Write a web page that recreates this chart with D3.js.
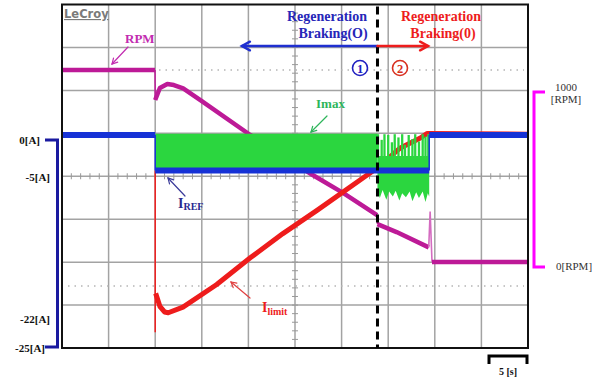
<!DOCTYPE html>
<html>
<head>
<meta charset="utf-8">
<script src="https://cdn.jsdelivr.net/npm/d3@7"></script>
<style>
  html, body { margin: 0; padding: 0; background: #fff; }
  svg { display: block; }
</style>
</head>
<body>
<div id="chart"></div>
<script>
// time axis: 5 s / div, 10 divisions
const timeTicks = d3.range(0, 51, 5);

// motor speed [RPM] vs time [s]
const rpmTrace = [[0,1103],[9.98,1103],[10.0,931],[10.5,1000],[11.3,1023],[12.0,1017],[13.0,998],[15.0,925],[20.2,730],[26.9,500],[30.15,397],[33.8,270],[33.85,218],[35.9,172],[39.35,84]];
const rpmDrop = [[39.35,84],[39.5,290],[39.7,0]];
const rpmTail = [[39.7,0],[50,0]];

// current reference I_REF [A]
const irefTrace = [[0,0],[10,0],[10,-4.4],[39.4,-4.4],[39.4,0],[50,0]];

// current limit I_limit [A]
const ilimitStep = [[10,-4.4],[10,-24.4]];
const ilimitTrace = [[10.05,-19.6],[10.5,-21.2],[11.0,-21.9],[11.4,-22.0],[12.98,-21.3],[16.6,-18.5],[20.2,-15.2],[23.7,-12.2],[27.4,-9.3],[33.05,-4.7],[33.8,-4.1],[36.3,-1.6],[38.4,-0.4],[39.2,0.2],[50,0.1]];

// I_max: dense band in zone 1, chopped burst in zone 2  [t, upper, lower]
const imaxBand = [[10,0.15,-4.4],[33.85,0.15,-4.4]];
const imaxStripes = [[33.9,0.1],[34.3,-0.6],[34.6,0.1],[35.0,0.0],[35.4,-0.9],[35.7,0.1],[36.1,-0.3],[36.5,0.1],[36.8,-1.2],[37.2,0.0],[37.6,-0.5],[37.9,0.1],[38.3,-0.8],[38.7,0.1],[39.0,-0.2],[39.3,0.1]];
const imaxBurstLow = [[33.85,-6.9],[34.1,-7.8],[34.4,-6.8],[34.8,-8.0],[35.1,-7.0],[35.5,-7.6],[35.8,-6.9],[36.2,-8.1],[36.5,-7.2],[36.9,-7.7],[37.3,-7.0],[37.6,-8.2],[38.0,-7.1],[38.3,-7.8],[38.7,-7.0],[39.0,-8.3],[39.25,-7.2],[39.4,-7.6]];

// side labels
const currentLabels = ['0[A]', '-5[A]', '-22[A]', '-25[A]'];
const rpmLabels = ['1000', '[RPM]', '0[RPM]'];

const tBoundary = 33.85;

const width = 601, height = 381;
const serif = '"Liberation Serif", "DejaVu Serif", serif';

const svg = d3.select('#chart').append('svg')
  .attr('width', width)
  .attr('height', height);

svg.append('rect').attr('width', width).attr('height', height).attr('fill', '#fff');

const x = d3.scaleLinear().domain([0, 50]).range([62, 528]);
const yDiv = d3.scaleLinear().domain([0, 8]).range([4.5, 348]);
const yA = d3.scaleLinear().domain([-25, 0]).range([337, 135]);
const yR = d3.scaleLinear().domain([0, 1000]).range([262, 88]);

// grid
const grid = svg.append('g');
grid.selectAll('.vgrid')
  .data(timeTicks.slice(1, -1))
  .enter().append('line')
  .attr('x1', d => x(d)).attr('x2', d => x(d))
  .attr('y1', yDiv(0)).attr('y2', yDiv(8))
  .attr('stroke', '#a3a3a3').attr('stroke-width', 1.5);
grid.selectAll('.hgrid')
  .data(d3.range(1, 8))
  .enter().append('line')
  .attr('x1', x(0)).attr('x2', x(50))
  .attr('y1', d => yDiv(d)).attr('y2', d => yDiv(d))
  .attr('stroke', '#a3a3a3').attr('stroke-width', 1.5);

// minor ticks on the centre lines
grid.selectAll('.xtick')
  .data(d3.range(0, 50.01, 1))
  .enter().append('line')
  .attr('x1', d => x(d)).attr('x2', d => x(d))
  .attr('y1', yDiv(4) - 3).attr('y2', yDiv(4) + 3)
  .attr('stroke', '#999').attr('stroke-width', 1);
grid.selectAll('.ytick')
  .data(d3.range(0, 8.01, 0.2))
  .enter().append('line')
  .attr('x1', x(25) - 3).attr('x2', x(25) + 3)
  .attr('y1', d => yDiv(d)).attr('y2', d => yDiv(d))
  .attr('stroke', '#999').attr('stroke-width', 1);

// dotted reference lines
[70, 286].forEach(yy => {
  grid.append('line')
    .attr('x1', x(0) + 6).attr('x2', x(50) - 4)
    .attr('y1', yy).attr('y2', yy)
    .attr('stroke', '#b5b5b5').attr('stroke-width', 1.3)
    .attr('stroke-dasharray', '1.5,5');
});

// draw a trace: steady parts thick, instant jumps thin
function trace(data, ys, color, w) {
  const runs = [[data[0]]];
  const jumps = [];
  for (let i = 1; i < data.length; i++) {
    const prev = data[i - 1], cur = data[i];
    if (Math.abs(x(cur[0]) - x(prev[0])) < 1) {
      jumps.push([prev, cur]);
      runs.push([cur]);
    } else {
      runs[runs.length - 1].push(cur);
    }
  }
  const line = d3.line().x(d => x(d[0])).y(d => ys(d[1]));
  jumps.forEach(j => {
    svg.append('path').attr('d', line(j))
      .attr('fill', 'none').attr('stroke', color).attr('stroke-width', 1.5);
  });
  runs.filter(r => r.length > 1).forEach(r => {
    svg.append('path').attr('d', line(r))
      .attr('fill', 'none').attr('stroke', color).attr('stroke-width', w)
      .attr('stroke-linejoin', 'round');
  });
}

// RPM (magenta)
const rpmColor = '#bd1a97';
trace(rpmTrace, yR, rpmColor, 4.5);
svg.append('path').attr('d', d3.line().x(d => x(d[0])).y(d => yR(d[1]))(rpmDrop))
  .attr('fill', 'none').attr('stroke', '#d46cc0').attr('stroke-width', 1.6);
trace(rpmTail, yR, rpmColor, 4.5);

// I_limit (red)
const redColor = '#ee1c1c';
trace(ilimitStep, yA, redColor, 2);
trace(ilimitTrace, yA, redColor, 5);

// I_max (green)
const greenColor = '#2bd63f';
const band = d3.area().x(d => x(d[0])).y0(d => yA(d[2])).y1(d => yA(d[1]));
svg.append('path').attr('d', band(imaxBand)).attr('fill', greenColor);
svg.selectAll('.stripe')
  .data(imaxStripes)
  .enter().append('line')
  .attr('x1', d => x(d[0])).attr('x2', d => x(d[0]))
  .attr('y1', d => yA(d[1])).attr('y2', yA(-2.7))
  .attr('stroke', greenColor).attr('stroke-width', 2.3);
const burst = d3.area().x(d => x(d[0])).y0(d => yA(d[1])).y1(yA(-2.6));
svg.append('path').attr('d', burst(imaxBurstLow)).attr('fill', greenColor);

// I_REF (blue)
trace(irefTrace, yA, '#1632d6', 6);

// plot frame
svg.append('rect')
  .attr('x', x(0)).attr('y', yDiv(0))
  .attr('width', x(50) - x(0)).attr('height', yDiv(8) - yDiv(0))
  .attr('fill', 'none').attr('stroke', '#111').attr('stroke-width', 2);

// zone boundary
svg.append('line')
  .attr('x1', x(tBoundary)).attr('x2', x(tBoundary))
  .attr('y1', yDiv(0) + 2).attr('y2', yDiv(8))
  .attr('stroke', '#000').attr('stroke-width', 3)
  .attr('stroke-dasharray', '8,5');

function arrow(x1, y1, x2, y2, color, w, head) {
  const a = Math.atan2(y2 - y1, x2 - x1);
  const g = svg.append('g').attr('stroke', color).attr('stroke-width', w)
    .attr('fill', 'none').attr('stroke-linecap', 'round');
  g.append('line').attr('x1', x1).attr('y1', y1).attr('x2', x2).attr('y2', y2);
  g.append('polyline').attr('points', [
    [x2 - head * Math.cos(a - 0.5), y2 - head * Math.sin(a - 0.5)],
    [x2, y2],
    [x2 - head * Math.cos(a + 0.5), y2 - head * Math.sin(a + 0.5)]
  ].join(' '));
}

function label(txt, px, py, color, size, anchor, weight) {
  return svg.append('text')
    .attr('x', px).attr('y', py)
    .attr('text-anchor', anchor || 'start')
    .style('font-family', serif)
    .style('font-size', size + 'px')
    .style('font-weight', weight || 'bold')
    .attr('fill', color)
    .text(txt);
}

// LeCroy logo
svg.append('text')
  .attr('x', 64).attr('y', 18)
  .style('font-family', '"DejaVu Sans", sans-serif')
  .style('font-size', '11.5px').style('font-weight', 'bold')
  .style('text-decoration', 'underline')
  .attr('fill', '#7a7a7a')
  .text('LeCroy');

// zone headers
const blue = '#2626b8';
label('Regeneration', 327, 21, blue, 14, 'middle');
label('Braking(O)', 333, 38, blue, 14, 'middle');
label('Regeneration', 441, 21, redColor, 14, 'middle');
label('Braking(0)', 443, 38, redColor, 14, 'middle');
arrow(x(tBoundary), 46, 242, 46, '#1f2fd0', 2.5, 9);
arrow(x(tBoundary), 46, 428, 46, redColor, 2.5, 9);

// circled zone numbers
[[360, '1', '#2020c0'], [400, '2', '#d83020']].forEach(([cx, n, c]) => {
  svg.append('circle').attr('cx', cx).attr('cy', 68).attr('r', 7.5)
    .attr('fill', '#fff').attr('stroke', c).attr('stroke-width', 1.6);
  label(n, cx, 72.5, c, 12.5, 'middle');
});

// trace labels
label('RPM', 125, 43, '#c22cb0', 13);
arrow(128, 47, 112, 64, '#c22cb0', 1.2, 6);

label('Imax', 316, 108, '#2db55a', 13);
arrow(327, 116, 311, 132, '#2db55a', 1.2, 6);

const iref = label('I', 178, 208, '#2a2a90', 14);
iref.append('tspan').attr('dy', 2).style('font-size', '10px').text('REF');
arrow(185, 196, 168, 178, '#3b3b9a', 1.2, 6);

const ilim = label('I', 262, 312, redColor, 14);
ilim.append('tspan').attr('dy', 3).style('font-size', '10px').text('limit');
arrow(250, 298, 231, 282, '#e04040', 1.2, 6);

// current scale bracket (left)
svg.append('path')
  .attr('d', 'M45,140 H57.5 V347 H45')
  .attr('fill', 'none').attr('stroke', '#1a1aa0').attr('stroke-width', 3);
label(currentLabels[0], 40, 144, '#111', 11, 'end');
label(currentLabels[1], 50, 181, '#111', 11, 'end');
label(currentLabels[2], 50, 323, '#111', 11, 'end');
label(currentLabels[3], 45, 352, '#111', 11, 'end');

// speed scale bracket (right)
svg.append('path')
  .attr('d', 'M545,92 H534 V267 H545')
  .attr('fill', 'none').attr('stroke', '#ff00ff').attr('stroke-width', 3);
label(rpmLabels[0], 566, 91, '#333', 11, 'middle', 'normal');
label(rpmLabels[1], 566, 103, '#333', 11, 'middle', 'normal');
label(rpmLabels[2], 556, 270, '#333', 11, 'start', 'normal');

// time scale bar
svg.append('path')
  .attr('d', 'M489,364 V356 H527 V364')
  .attr('fill', 'none').attr('stroke', '#000').attr('stroke-width', 3);
label('5 [s]', 508, 375, '#111', 10, 'middle');
</script>
</body>
</html>
